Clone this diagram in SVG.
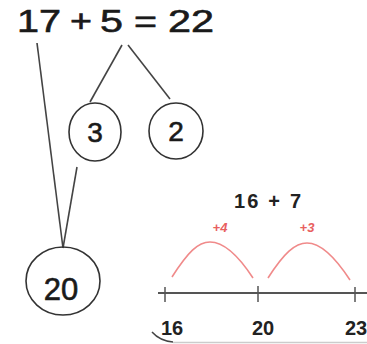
<svg xmlns="http://www.w3.org/2000/svg" width="367" height="344" viewBox="0 0 367 344">
<style>
.t{font-family:"Liberation Sans",Arial,sans-serif;fill:#1a1a1a;stroke:#1a1a1a;stroke-width:0.6}
.c{fill:none;stroke:#333;stroke-width:1.6}
.l{stroke:#444;stroke-width:1.6;fill:none}
.b{font-family:"Liberation Sans",Arial,sans-serif;font-weight:bold;fill:#222}
.r{font-family:"Liberation Sans",Arial,sans-serif;font-style:italic;font-weight:bold;fill:#e8605f}
.arc{fill:none;stroke:#f08a8a;stroke-width:1.6}
</style>
<rect width="367" height="344" fill="#fff"/>
<g id="equation" class="t" font-size="31">
<text x="17" y="32" textLength="44" lengthAdjust="spacingAndGlyphs">17</text>
<text x="70" y="32" textLength="22" lengthAdjust="spacingAndGlyphs">+</text>
<text x="100" y="32" textLength="23" lengthAdjust="spacingAndGlyphs">5</text>
<text x="134" y="32" textLength="23" lengthAdjust="spacingAndGlyphs">=</text>
<text x="168" y="32" textLength="46" lengthAdjust="spacingAndGlyphs">22</text>
</g>
<g id="connectors">
<line class="l" x1="37" y1="43" x2="63" y2="248"/>
<line class="l" x1="77" y1="167" x2="63" y2="248"/>
<line class="l" x1="122" y1="45" x2="90" y2="102"/>
<line class="l" x1="128" y1="45" x2="170" y2="99"/>
</g>
<g id="node3"><ellipse class="c" cx="95" cy="132" rx="26" ry="29"/><text class="t" x="95" y="142" font-size="28" text-anchor="middle">3</text></g>
<g id="node2"><ellipse class="c" cx="176" cy="131" rx="27" ry="28"/><text class="t" x="176" y="141" font-size="28" text-anchor="middle">2</text></g>
<g id="node20"><ellipse class="c" cx="63" cy="281" rx="37" ry="34"/><text class="t" x="61" y="300" font-size="31" text-anchor="middle">20</text></g>
<g id="numberline">
<text class="b" x="234" y="208" font-size="20" textLength="67" lengthAdjust="spacing">16 + 7</text>
<text class="r" x="220" y="232" font-size="13" text-anchor="middle">+4</text>
<text class="r" x="307" y="232" font-size="13" text-anchor="middle">+3</text>
<path class="arc" d="M172 277 C188 252 198 242 210 242 C222 242 236 252 253 278"/>
<path class="arc" d="M268 278 C284 253 295 243 307 243 C319 243 333 254 350 280"/>
<line x1="158" y1="293" x2="367" y2="293" stroke="#555" stroke-width="2"/>
<line x1="165" y1="287" x2="165" y2="302" stroke="#555" stroke-width="1.5"/>
<line x1="258" y1="286" x2="258" y2="302" stroke="#555" stroke-width="1.5"/>
<line x1="355" y1="287" x2="355" y2="302" stroke="#555" stroke-width="1.5"/>
<text class="b" x="172" y="335" font-size="20" text-anchor="middle">16</text>
<text class="b" x="263" y="335" font-size="20" text-anchor="middle">20</text>
<text class="b" x="345" y="335" font-size="20">23</text>
<path d="M152 332 Q160 341 173 342" fill="none" stroke="#444" stroke-width="1.5"/>
<line x1="173" y1="342.5" x2="367" y2="342.5" stroke="#ccc" stroke-width="1.5"/>
</g>
</svg>
